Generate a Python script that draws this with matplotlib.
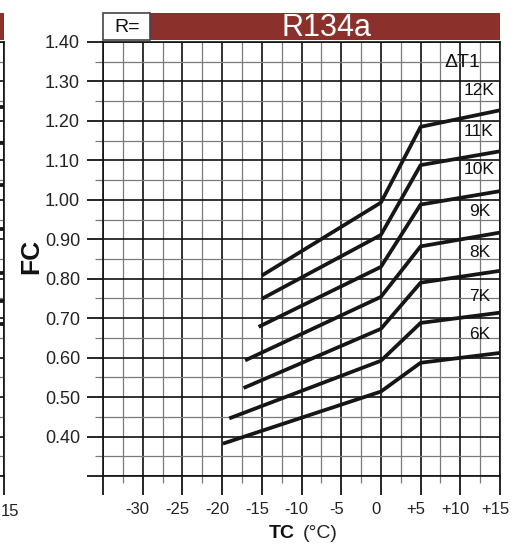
import numpy as np
import matplotlib.pyplot as plt
from matplotlib.patches import Rectangle
from matplotlib.transforms import ScaledTranslation

plt.rcParams['font.family'] = ['Liberation Sans', 'DejaVu Sans']

# Datos: FC en funcion de TC para cada DT1
dt1_labels = ['12K', '11K', '10K', '9K', '8K', '7K', '6K']
tc_start = [-15.0, -15.0, -15.4, -17.1, -17.3, -19.1, -19.9]
tc_knees = [0, 5, 15]
fc_start = [0.808, 0.749, 0.678, 0.593, 0.523, 0.446, 0.382]
fc_at_0 = [0.993, 0.911, 0.830, 0.754, 0.673, 0.592, 0.514]
fc_at_5 = [1.185, 1.088, 0.988, 0.882, 0.790, 0.688, 0.587]
fc_at_15 = [1.227, 1.123, 1.022, 0.917, 0.820, 0.714, 0.612]

# extremos de las curvas de la grafica vecina (recortada a la izquierda)
neighbor_tc = [14.0, 15.0]
neighbor_end = [1.235, 1.144, 1.038, 0.927, 0.815, 0.744, 0.684]

x_major = np.arange(-35, 16, 5)
x_minor = np.arange(-32.5, 15, 5)
y_major = np.round(np.arange(0.30, 1.41, 0.10), 2)
y_minor = np.round(np.arange(0.35, 1.40, 0.10), 2)
x_labels = [''] + ['%d' % v if v <= 0 else '+%d' % v for v in x_major[1:]]
y_labels = [''] + ['%.2f' % v for v in y_major[1:]]

W, H = 521, 545
RED = '#8c302b'
INK = '#161616'


def fx(px):
    return px / W


def fy(py):
    return 1 - py / H


def draw_panel(ax):
    ax.set_xlim(-35, 15)
    ax.set_ylim(0.30, 1.40)
    ax.set_xticks(x_major)
    ax.set_xticks(x_minor, minor=True)
    ax.set_yticks(y_major)
    ax.set_yticks(y_minor, minor=True)
    ax.set_axisbelow(True)
    ax.grid(which='major', color='#111111', lw=1.2)
    ax.grid(which='minor', color='#7a7a7a', lw=0.9)
    ax.tick_params(axis='x', which='major', length=13.5, width=1.2, pad=5,
                   labelsize=12, labelcolor='#222222')
    ax.tick_params(axis='x', which='minor', length=5, width=0.9, color='#7a7a7a')
    ax.tick_params(axis='y', which='major', length=11.5, width=1.2, pad=5,
                   labelsize=13, labelcolor='#222222')
    ax.tick_params(axis='y', which='minor', length=5.8, width=0.9, color='#7a7a7a')
    for s in ax.spines.values():
        s.set_linewidth(1.2)
        s.set_color('#111111')
    # banda roja de cabecera
    ax.add_patch(Rectangle((47 / 397, 1 + 2 / 434), 350 / 397, 27 / 434,
                           transform=ax.transAxes, fc=RED, ec='none',
                           clip_on=False))


fig = plt.figure(figsize=(W / 100, H / 100), dpi=100)

# grafica vecina, recortada en el borde izquierdo
ax_nb = fig.add_axes([fx(4 - 397), fy(476), fx(397), 434 / H])
draw_panel(ax_nb)
ax_nb.set_xticklabels([])
ax_nb.set_yticklabels([])
for v in neighbor_end:
    ax_nb.plot(neighbor_tc, [v, v], color=INK, lw=2.7, solid_capstyle='butt')
fig.text(fx(0.5), fy(511), '15', fontsize=12, color='#222222', ha='left', va='center')

# grafica principal
ax = fig.add_axes([fx(103), fy(476), fx(397), 434 / H])
draw_panel(ax)
ax.set_xticklabels(x_labels)
ax.set_yticklabels(y_labels)
shift = ScaledTranslation(-0.05, 0, fig.dpi_scale_trans)
for lbl in ax.get_xticklabels():
    lbl.set_transform(lbl.get_transform() + shift)

for i in range(len(dt1_labels)):
    xs = [tc_start[i]] + tc_knees
    ys = [fc_start[i], fc_at_0[i], fc_at_5[i], fc_at_15[i]]
    ax.plot(xs, ys, color=INK, lw=2.7, solid_capstyle='butt', zorder=3)

# etiquetas de DT1
label_x = [10.4, 10.4, 10.4, 11.1, 11.1, 11.1, 11.1]
label_y = [1.276, 1.172, 1.076, 0.970, 0.866, 0.754, 0.658]
for t, lx, ly in zip(dt1_labels, label_x, label_y):
    ax.text(lx, ly, t, fontsize=12.5, color='#111111', ha='left', va='center', zorder=4)
ax.text(8.0, 1.347, '\u0394T1', fontsize=14, color='#111111', ha='left', va='center', zorder=4)

# cabecera "R=" y refrigerante
ax.add_patch(Rectangle((0, 1 + 2 / 434), 47 / 397, 27 / 434, transform=ax.transAxes,
                       fc='white', ec='#444444', lw=1.2, clip_on=False, zorder=5))
fig.text(fx(127), fy(27), 'R=', fontsize=14, color='#111111', ha='center', va='center')
fig.text(fx(326), fy(28.5), 'R134a', fontsize=22, color='white', ha='center', va='center')

# titulos de ejes
fig.text(fx(31), fy(256), 'FC', fontsize=19, fontweight='bold', rotation=90,
         ha='center', va='center', color='#111111')
fig.text(fx(269), fy(533), 'TC', fontsize=14, fontweight='bold',
         ha='left', va='center', color='#111111')
fig.text(fx(303), fy(533), '(\u00b0C)', fontsize=14, ha='left', va='center', color='#222222')

fig.savefig('out.png', dpi=100)
